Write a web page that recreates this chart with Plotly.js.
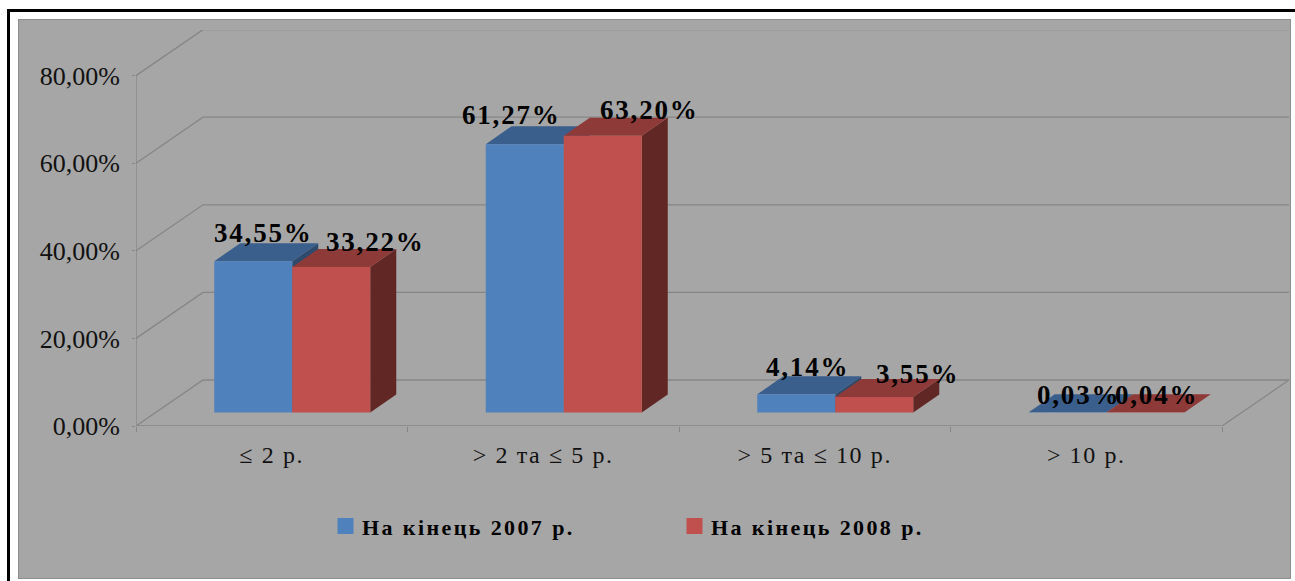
<!DOCTYPE html>
<html>
<head>
<meta charset="utf-8">
<script src="https://cdn.plot.ly/plotly-3.0.1.min.js"></script>
<style>
html,body{margin:0;padding:0;background:#fff;overflow:hidden;width:1295px;height:581px}
#frame{position:absolute;left:7px;top:9px;width:1400px;height:700px;border:3px solid #000;box-sizing:border-box}
#chart{position:absolute;left:19px;top:20px;width:1271px;height:558px;box-shadow:0 0 0 1px #8c8c8c}
.annotation-text{letter-spacing:1.8px}
.legendtext{letter-spacing:2.4px;transform:translateX(-3.5px)}
.xtick text{letter-spacing:1.6px}
</style>
</head>
<body>
<div id="frame"></div>
<div id="chart"></div>
<script>
const categories = ["≤ 2 р.", "> 2 та ≤ 5 р.", "> 5 та ≤ 10 р.", "> 10 р."];
const series2007 = [34.55, 61.27, 4.14, 0.03];
const series2008 = [33.22, 63.20, 3.55, 0.04];
const labels2007 = ["34,55%", "61,27%", "4,14%", "0,03%"];
const labels2008 = ["33,22%", "63,20%", "3,55%", "0,04%"];
const yTickValues = [0, 20, 40, 60, 80];
const yTickLabels = ["0,00%", "20,00%", "40,00%", "60,00%", "80,00%"];
const name2007 = "На кінець 2007 р.";
const name2008 = "На кінець 2008 р.";

// pixel label offsets from the top-centre of each bar's front face
const shift2007 = [[10, 28], [-13, 29], [11, 27], [11, 17]];
const shift2008 = [[44, 25], [47, 26], [43, 23], [11, 17]];

// plot geometry: 1 band = 271.5 px, 1 % = 4.38 px
const bandPx = 271.5, unitPx = 4.38;
const xRange = [-0.5, -0.5 + 1153 / bandPx];
const yRange = [0, 396 / unitPx];
const wallDx = 67 / bandPx, wallDy = 46 / unitPx;      // floor/wall depth
const barDx = 26 / bandPx, barDy = 18 / unitPx;        // bar depth
const barBase = 13.5 / unitPx;                         // bar foot above front edge
const barW = 78 / bandPx, groupShift = 20.5 / bandPx;
const gridColor = "#868686";

const line = (x, y, w) => ({x, y, mode: "lines", type: "scatter", cliponaxis: false, showlegend: false,
  hoverinfo: "skip", line: {color: gridColor, width: w || 1.3}, zorder: 0});

const traces = [];
// walls
yTickValues.forEach(v => traces.push(line([xRange[0], xRange[0] + wallDx, xRange[1]], [v, v + wallDy, v + wallDy])));
traces.push(line([xRange[0], xRange[0]], [0, 80]));
traces.push(line([xRange[0], categories.length - 0.5, categories.length - 0.5 + wallDx], [0, 0, wallDy]));

function addSeries(values, sign, name, front, top, side, z) {
  const cx = values.map((_, i) => i + groupShift + sign * barW / 2);
  const tx = [], ty = [], sx = [], sy = [];
  values.forEach((v, i) => {
    const x0 = cx[i] - barW / 2, x1 = cx[i] + barW / 2, h = barBase + v;
    tx.push(x0, x1, x1 + barDx, x0 + barDx, x0, null);
    ty.push(h, h, h + barDy, h + barDy, h, null);
    sx.push(x1, x1 + barDx, x1 + barDx, x1, x1, null);
    sy.push(barBase, barBase + barDy, h + barDy, h, barBase, null);
  });
  const face = (x, y, color) => ({x, y, type: "scatter", mode: "lines", fill: "toself", fillcolor: color,
    line: {width: 0, color}, showlegend: false, hoverinfo: "skip", zorder: z});
  traces.push(face(sx, sy, side));
  traces.push(face(tx, ty, top));
  traces.push({type: "bar", x: cx, y: values, base: barBase, width: barW, name, showlegend: false,
    marker: {color: front, line: {width: 0}}, hoverinfo: "skip", zorder: z + 1});
  // legend key
  traces.push({type: "scatter", mode: "markers", x: [null], y: [null], name,
    marker: {symbol: "square", size: 16, color: front}, hoverinfo: "skip", showlegend: true, zorder: z + 1});
  return cx;
}
const cx07 = addSeries(series2007, -1, name2007, "#4F81BD", "#3B5F8C", "#2E4A6D", 1);
const cx08 = addSeries(series2008, 1, name2008, "#C0504D", "#8E3A38", "#612725", 3);

const labelFont = {family: "Liberation Serif", size: 27, color: "#000", weight: 700};
const annotation = (x, v, text, s) => ({x, y: barBase + v, text, showarrow: false, font: labelFont,
  xanchor: "center", yanchor: "middle", xshift: s[0], yshift: s[1]});
const annotations = [
  ...series2007.map((v, i) => annotation(cx07[i], v, labels2007[i], shift2007[i])),
  ...series2008.map((v, i) => annotation(cx08[i], v, labels2008[i], shift2008[i]))
];

const layout = {
  width: 1271, height: 558,
  margin: {l: 117, r: 1, t: 10, b: 152, pad: 0},
  paper_bgcolor: "#A6A6A6", plot_bgcolor: "rgba(0,0,0,0)",
  barmode: "overlay", hovermode: false,
  font: {family: "Liberation Serif", color: "#000"},
  xaxis: {
    range: xRange, showgrid: false, zeroline: false, showline: false,
    tickmode: "array", tickvals: categories.map((_, i) => i), ticktext: categories,
    ticks: "", ticklabelstandoff: 12, tickfont: {size: 24, color: "#111"},
    minor: {tickmode: "array", tickvals: [-0.5, 0.5, 1.5, 2.5, 3.5], ticks: "outside", ticklen: 5, tickcolor: gridColor, tickwidth: 1, showgrid: false}
  },
  yaxis: {
    range: yRange, showgrid: false, zeroline: false, showline: false,
    tickmode: "array", tickvals: yTickValues, ticktext: yTickLabels,
    ticks: "outside", ticklen: 3, tickcolor: gridColor, tickwidth: 1,
    ticklabelstandoff: 7, tickfont: {size: 26, color: "#111"}
  },
  legend: {
    orientation: "h", x: (325.5 - 136) / 1153, xanchor: "left", y: -0.2, yanchor: "top",
    bgcolor: "rgba(0,0,0,0)", entrywidth: 304, entrywidthmode: "pixels", traceorder: "normal",
    font: {family: "Liberation Serif", size: 22, color: "#000", weight: 700}
  },
  annotations,
  showlegend: true
};
Plotly.newPlot("chart", traces, layout, {displayModeBar: false, staticPlot: true});
</script>
</body>
</html>
